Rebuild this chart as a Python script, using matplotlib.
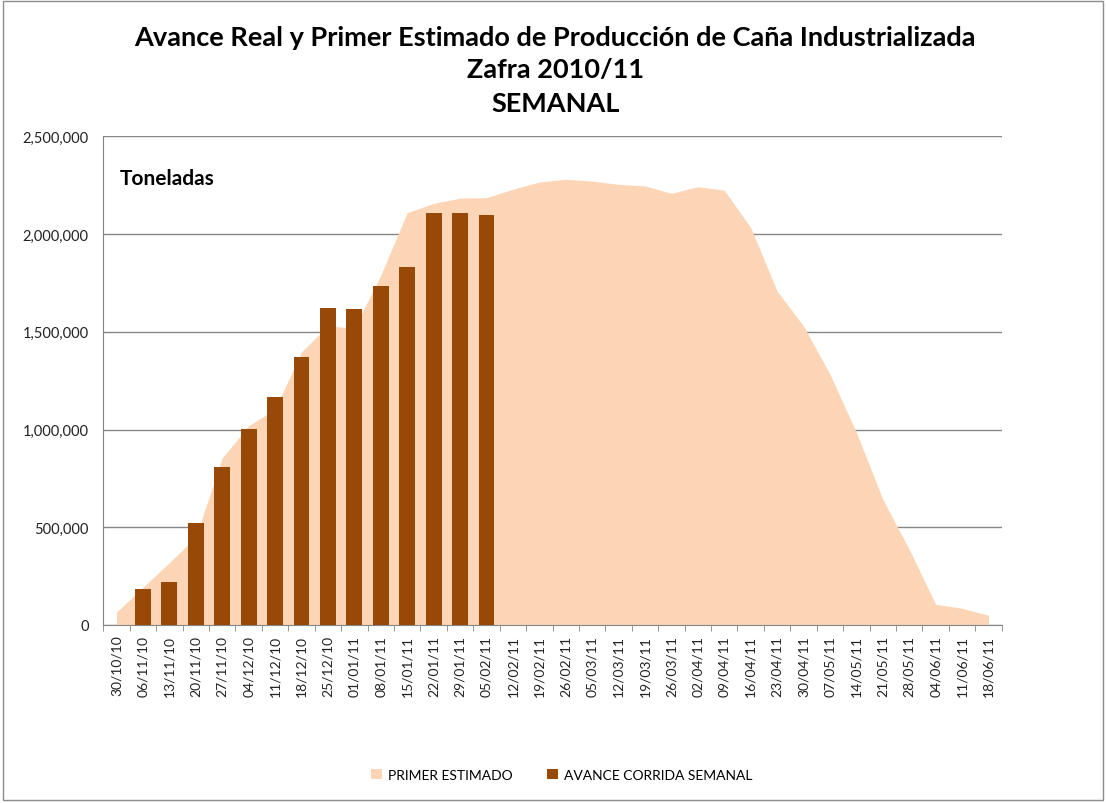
import numpy as np
import matplotlib
matplotlib.use('Agg')
import matplotlib.pyplot as plt
from matplotlib.ticker import FuncFormatter, FixedLocator
from matplotlib.patches import Rectangle

plt.rcParams['font.family'] = ['Lato', 'DejaVu Sans']

semanas = ['30/10/10', '06/11/10', '13/11/10', '20/11/10', '27/11/10', '04/12/10',
           '11/12/10', '18/12/10', '25/12/10', '01/01/11', '08/01/11', '15/01/11',
           '22/01/11', '29/01/11', '05/02/11', '12/02/11', '19/02/11', '26/02/11',
           '05/03/11', '12/03/11', '19/03/11', '26/03/11', '02/04/11', '09/04/11',
           '16/04/11', '23/04/11', '30/04/11', '07/05/11', '14/05/11', '21/05/11',
           '28/05/11', '04/06/11', '11/06/11', '18/06/11']

# primer estimado (toneladas por semana)
primer_estimado = [66000, 193000, 319000, 450000, 855000, 1020000,
                   1104000, 1397000, 1530000, 1520000, 1790000, 2110000,
                   2158000, 2184000, 2187000, 2230000, 2267000, 2281000,
                   2272000, 2255000, 2247000, 2209000, 2243000, 2225000,
                   2034000, 1709000, 1530000, 1283000, 985000, 643000,
                   387000, 106000, 85500, 49600]

# avance real corrida semanal
avance_real = [np.nan, 183000, 220000, 524000, 810000, 1001000,
               1169000, 1373000, 1622000, 1615000, 1735000, 1834000,
               2107000, 2107000, 2100000]

color_est = '#FBD5B5'
color_real = '#984807'
gris = '#868686'

fig = plt.figure(figsize=(11.06, 8.04), dpi=100)
fig.patches.append(Rectangle((0.003, 0.004), 0.994, 0.993, transform=fig.transFigure,
                             fill=False, edgecolor='#8c8c8c', linewidth=1))

ax = fig.add_axes([0.0934, 0.2214, 0.8123, 0.6076])
x = np.arange(len(semanas))
ax.fill_between(x, primer_estimado, color=color_est, linewidth=0, label='PRIMER ESTIMADO', zorder=2)
ax.bar(x[:len(avance_real)], avance_real, width=0.6, color=color_real,
       label='AVANCE CORRIDA SEMANAL', zorder=3)

ax.set_xlim(-0.5, len(semanas) - 0.5)
ax.set_ylim(0, 2500000)
ax.set_yticks(np.arange(0, 2500001, 500000))
ax.yaxis.set_major_formatter(FuncFormatter(lambda v, p: f'{int(v):,}'))
ax.grid(axis='y', color=gris, linewidth=1, zorder=1)
ax.set_axisbelow(True)

ax.set_xticks(x)
ax.set_xticklabels(semanas, rotation=90, fontsize=10, color='#222222')
ax.xaxis.set_minor_locator(FixedLocator(np.arange(-0.5, len(semanas), 1)))
ax.tick_params(axis='x', which='major', length=0, pad=7)
ax.tick_params(axis='x', which='minor', length=4, color=gris, direction='out')
ax.tick_params(axis='y', length=0, pad=10.5, labelsize=10.5, labelcolor='#222222')

for s in ['top', 'right']:
    ax.spines[s].set_visible(False)
ax.spines['left'].set_color(gris)
ax.spines['bottom'].set_color(gris)

ax.text(0.018, 0.915, 'Toneladas', transform=ax.transAxes, fontsize=15,
        fontweight='bold', ha='left', va='center')

fig.text(0.502, 0.953, 'Avance Real y Primer Estimado de Producción de Caña Industrializada',
         ha='center', va='center', fontsize=19.5, fontweight='bold')
fig.text(0.502, 0.913, 'Zafra 2010/11', ha='center', va='center', fontsize=19.5, fontweight='bold')
fig.text(0.502, 0.871, 'SEMANAL', ha='center', va='center', fontsize=19.5, fontweight='bold')

fig.legend(loc='center', bbox_to_anchor=(0.508, 0.035), ncol=2, frameon=False,
           fontsize=10, handlelength=0.8, handleheight=0.8, columnspacing=2.5,
           handletextpad=0.4)

fig.savefig('out.png', dpi=100)
